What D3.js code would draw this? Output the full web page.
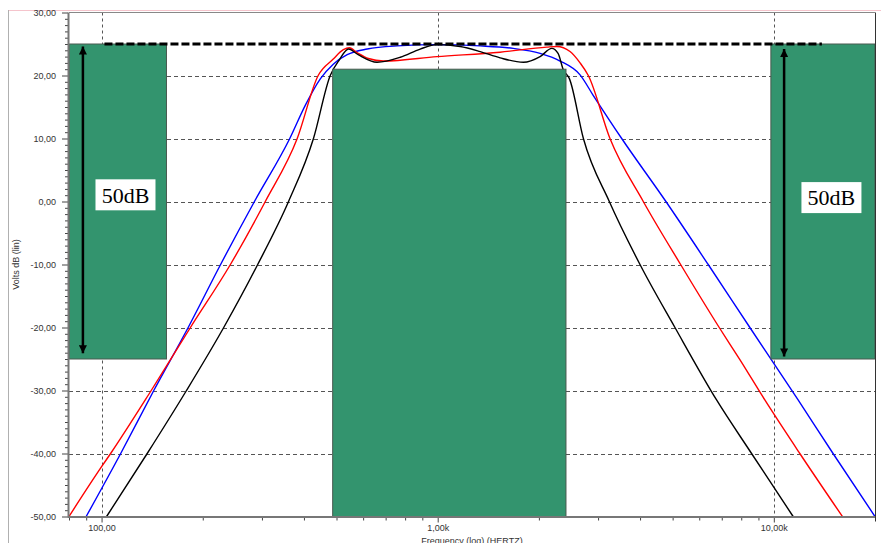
<!DOCTYPE html>
<html>
<head>
<meta charset="utf-8">
<script src="https://cdn.jsdelivr.net/npm/d3@7"></script>
<style>
  body { margin: 0; background: #fff; }
  svg { display: block; font-family: "Liberation Sans", Arial, sans-serif; }
</style>
</head>
<body>
<svg id="chart" width="881" height="543"></svg>
<script>
// Filter response vs. tolerance mask
const blueFreq = [90, 114, 143, 181, 226, 285, 363, 404, 448, 489, 538, 617, 758, 995, 1338, 1677, 2017, 2312, 2652, 2898, 3527, 4775, 6380, 8487, 11810, 15005, 20000];
const blueDb   = [-50, -40, -30, -20, -10, 0, 10, 15.3, 19.5, 21.8, 23.3, 24.2, 24.7, 24.9, 24.7, 24.3, 23.5, 22.3, 20.1, 16.9, 10, 0, -10, -20, -31.5, -40, -50];

const redFreq = [80, 100, 106.4, 140.5, 183.8, 241.7, 307, 382, 441, 489, 524, 546, 577, 622, 690, 995, 1533, 2111, 2261, 2476, 2652, 2806, 3255, 4089, 5281, 6880, 7925, 9403, 11950, 16000];
const redDb   = [-50, -42.1, -40, -30, -20, -10, 0, 10, 20, 22.6, 24.1, 24.4, 23.6, 22.7, 22.3, 23.0, 23.7, 24.5, 24.6, 23.8, 22, 20, 10, 0, -10, -20, -25.1, -31.5, -40, -50];

const blackFreq = [103.5, 136.7, 178.9, 230.9, 291.4, 360, 427, 479, 510, 543, 580, 660, 774, 887, 995, 1166, 1338, 1533, 1799, 2017, 2185, 2281, 2365, 2465, 2713, 3240, 3998, 5080, 6756, 8586, 11414];
const blackDb   = [-50, -40, -30, -20, -10, 0, 10, 20, 22.5, 24.2, 23.3, 22.1, 22.9, 24.2, 24.9, 24.6, 23.8, 22.8, 22.1, 23.0, 24.3, 23.5, 20.9, 19.5, 10, 0, -10, -20, -31.5, -40, -50];

// mask boxes: [low freq, high freq], top dB, bottom dB
const maskFreqs  = [[80, 156], [487, 2408], [9800, 20000]];
const maskTop    = [25, 21, 25];
const maskBottom = [-25, -50, -25];

const refLevel = 25;
const refFreqs = [102, 13900];

const arrowFreq   = [88, 10730];
const arrowTop    = [24.6, 24.2];
const arrowBottom = [-24.1, -24.6];

const labelText = ['50dB', '50dB'];
const labelFreq = [117.8, 14840];
const labelDb   = [1.06, 0.62];

const xMajor = [100, 1000, 10000];
const xMajorLabels = ['100,00', '1,00k', '10,00k'];
const yMajor = [30, 20, 10, 0, -10, -20, -30, -40, -50];
const yLabels = ['30,00', '20,00', '10,00', '0,00', '-10,00', '-20,00', '-30,00', '-40,00', '-50,00'];

const svg = d3.select('#chart');
const plotLeft = 69, plotRight = 875, plotTop = 12.5, plotBottom = 516.5;

const x = d3.scaleLog().domain([80, 20000]).range([plotLeft, plotRight]);
const y = d3.scaleLinear().domain([-50, 30]).range([plotBottom, plotTop]);

// outer frame lines
svg.append('line').attr('x1', 8).attr('x2', 881).attr('y1', 10.5).attr('y2', 10.5)
  .attr('stroke', '#f5c4cc').attr('stroke-width', 1);
svg.append('line').attr('x1', 8.5).attr('x2', 8.5).attr('y1', 10).attr('y2', 543)
  .attr('stroke', '#b0b0b0').attr('stroke-width', 1);

const defs = svg.append('defs');
defs.append('clipPath').attr('id', 'plot-clip')
  .append('rect').attr('x', plotLeft).attr('y', plotTop)
  .attr('width', plotRight - plotLeft).attr('height', plotBottom - plotTop);
defs.append('marker')
  .attr('id', 'arrowhead')
  .attr('viewBox', '0 0 10 10')
  .attr('refX', 10).attr('refY', 5)
  .attr('markerWidth', 9).attr('markerHeight', 8)
  .attr('markerUnits', 'userSpaceOnUse')
  .attr('orient', 'auto-start-reverse')
  .append('path').attr('d', 'M0,0 L10,5 L0,10 Z').attr('fill', '#000');

// grid
const grid = svg.append('g').attr('class', 'grid');
grid.selectAll('line.v').data(xMajor).join('line')
  .attr('class', 'v')
  .attr('x1', d => Math.round(x(d)) + 0.5).attr('x2', d => Math.round(x(d)) + 0.5)
  .attr('y1', plotTop).attr('y2', plotBottom)
  .attr('stroke', '#555').attr('stroke-dasharray', '3,3');
grid.selectAll('line.h').data(yMajor.filter(d => d > -50 && d < 30)).join('line')
  .attr('class', 'h')
  .attr('x1', plotLeft).attr('x2', plotRight)
  .attr('y1', d => Math.round(y(d)) + 0.5).attr('y2', d => Math.round(y(d)) + 0.5)
  .attr('stroke', '#555').attr('stroke-dasharray', '4,3');

// response curves
const line = d3.line()
  .x(d => x(d[0]))
  .y(d => y(d[1]))
  .curve(d3.curveMonotoneX);

const series = [
  { f: blueFreq, v: blueDb, color: '#0000ff' },
  { f: redFreq, v: redDb, color: '#ff0000' },
  { f: blackFreq, v: blackDb, color: '#000000' }
];
const curves = svg.append('g').attr('clip-path', 'url(#plot-clip)');
series.forEach(s => {
  curves.append('path')
    .datum(s.f.map((f, i) => [f, s.v[i]]))
    .attr('d', line)
    .attr('fill', 'none')
    .attr('stroke', s.color)
    .attr('stroke-width', 1.4);
});

// mask boxes (drawn over the grid and curves)
svg.append('g').selectAll('rect').data(maskFreqs).join('rect')
  .attr('x', d => x(d[0]))
  .attr('y', (d, i) => y(maskTop[i]))
  .attr('width', d => x(d[1]) - x(d[0]))
  .attr('height', (d, i) => y(maskBottom[i]) - y(maskTop[i]))
  .attr('fill', '#33946e')
  .attr('stroke', '#4a5a50')
  .attr('stroke-width', 1);

// reference level
svg.append('line')
  .attr('x1', x(refFreqs[0])).attr('x2', x(refFreqs[1]))
  .attr('y1', y(refLevel)).attr('y2', y(refLevel))
  .attr('stroke', '#000').attr('stroke-width', 3).attr('stroke-dasharray', '8,3');

// 50 dB arrows
svg.append('g').selectAll('line').data(arrowFreq).join('line')
  .attr('x1', d => x(d)).attr('x2', d => x(d))
  .attr('y1', (d, i) => y(arrowTop[i])).attr('y2', (d, i) => y(arrowBottom[i]))
  .attr('stroke', '#000').attr('stroke-width', 2.5)
  .attr('marker-start', 'url(#arrowhead)')
  .attr('marker-end', 'url(#arrowhead)');

// labels
const labels = svg.append('g').selectAll('g').data(labelText).join('g')
  .attr('transform', (d, i) => `translate(${x(labelFreq[i])},${y(labelDb[i])})`);
labels.append('rect')
  .attr('x', -30).attr('y', -15.5).attr('width', 60).attr('height', 31)
  .attr('fill', '#fff');
labels.append('text')
  .attr('text-anchor', 'middle').attr('dy', '0.35em')
  .attr('font-family', '"Liberation Serif", "Times New Roman", serif')
  .attr('font-size', 22).attr('fill', '#000')
  .text(d => d);

// axes
const xMinor = [];
[10, 100, 1000, 10000].forEach(dec => {
  for (let k = 2; k <= 9; k++) {
    const v = dec * k;
    if (v >= 80 && v <= 20000) xMinor.push(v);
  }
});
const yMinor = d3.range(-50, 31, 1).filter(d => d % 10 !== 0);

const xAxisMinor = svg.append('g').attr('transform', `translate(0,${plotBottom + 1})`)
  .call(d3.axisBottom(x).tickValues(xMinor).tickSize(3).tickFormat(''));
const xAxis = svg.append('g').attr('transform', `translate(0,${plotBottom + 1})`)
  .call(d3.axisBottom(x).tickValues(xMajor).tickSize(5).tickPadding(2)
    .tickFormat((d, i) => xMajorLabels[i]));
const yAxisMinor = svg.append('g').attr('transform', `translate(${plotLeft - 1},0)`)
  .call(d3.axisLeft(y).tickValues(yMinor).tickSize(3).tickFormat(''));
const yAxis = svg.append('g').attr('transform', `translate(${plotLeft - 1},0)`)
  .call(d3.axisLeft(y).tickValues(yMajor).tickSize(6).tickPadding(6)
    .tickFormat((d, i) => yLabels[i]));

[xAxisMinor, xAxis, yAxisMinor, yAxis].forEach(g => {
  g.select('.domain').remove();
  g.selectAll('.tick line').attr('stroke', '#444');
  g.selectAll('.tick text').attr('fill', '#333').attr('font-size', 9)
    .attr('font-family', '"Liberation Sans", Arial, sans-serif');
});

// plot border
svg.append('line').attr('x1', plotLeft).attr('x2', plotRight).attr('y1', plotTop).attr('y2', plotTop)
  .attr('stroke', '#888');
svg.append('line').attr('x1', plotRight + 0.5).attr('x2', plotRight + 0.5)
  .attr('y1', plotTop).attr('y2', plotBottom + 5)
  .attr('stroke', '#333');
svg.append('line').attr('x1', plotLeft - 0.5).attr('x2', plotLeft - 0.5)
  .attr('y1', plotTop).attr('y2', plotBottom + 1)
  .attr('stroke', '#777').attr('stroke-width', 2);
svg.append('line').attr('x1', plotLeft - 1).attr('x2', plotRight)
  .attr('y1', plotBottom + 0.5).attr('y2', plotBottom + 0.5)
  .attr('stroke', '#777').attr('stroke-width', 2);

// axis titles
svg.append('text')
  .attr('x', (plotLeft + plotRight) / 2).attr('y', 544)
  .attr('text-anchor', 'middle').attr('font-size', 9).attr('fill', '#333')
  .text('Frequency (log) (HERTZ)');
svg.append('text')
  .attr('transform', `translate(19,${(plotTop + plotBottom) / 2}) rotate(-90)`)
  .attr('text-anchor', 'middle').attr('font-size', 9).attr('fill', '#333')
  .text('Volts dB (lin)');
</script>
</body>
</html>
